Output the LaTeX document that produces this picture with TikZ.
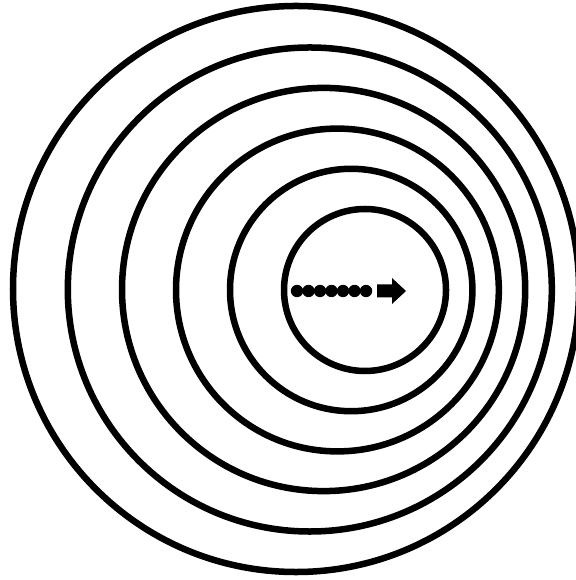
\documentclass[tikz,border=0pt]{standalone}
\usepackage{tikz}
\usetikzlibrary{positioning}

\tikzset{
    wave/.style={draw=black, line width=0.065cm},
    dotmark/.style={fill=black},
}

\begin{document}
\begin{tikzpicture}[x=0.01cm, y=-0.01cm]
    \useasboundingbox (0,0) rectangle (575,580);

    % wave fronts, each one older and wider
    \draw[wave] (365,290) circle (81);
    \draw[wave] (351.2,290) circle (121.2);
    \draw[wave] (337.4,290) circle (161.4);
    \draw[wave] (323.6,289.5) circle (201.6);
    \draw[wave] (309.8,289.5) circle (242);
    \draw[wave] (296,289) circle (283);

    % moving source
    \foreach \k in {0,...,6}
        \fill[dotmark] (297+\k*11.5,291) circle (6.2);
    \fill[dotmark] (377,284.5) -- (392,284.5) -- (392,278) -- (406,291)
        -- (392,304) -- (392,297.5) -- (377,297.5) -- cycle;
\end{tikzpicture}
\end{document}
